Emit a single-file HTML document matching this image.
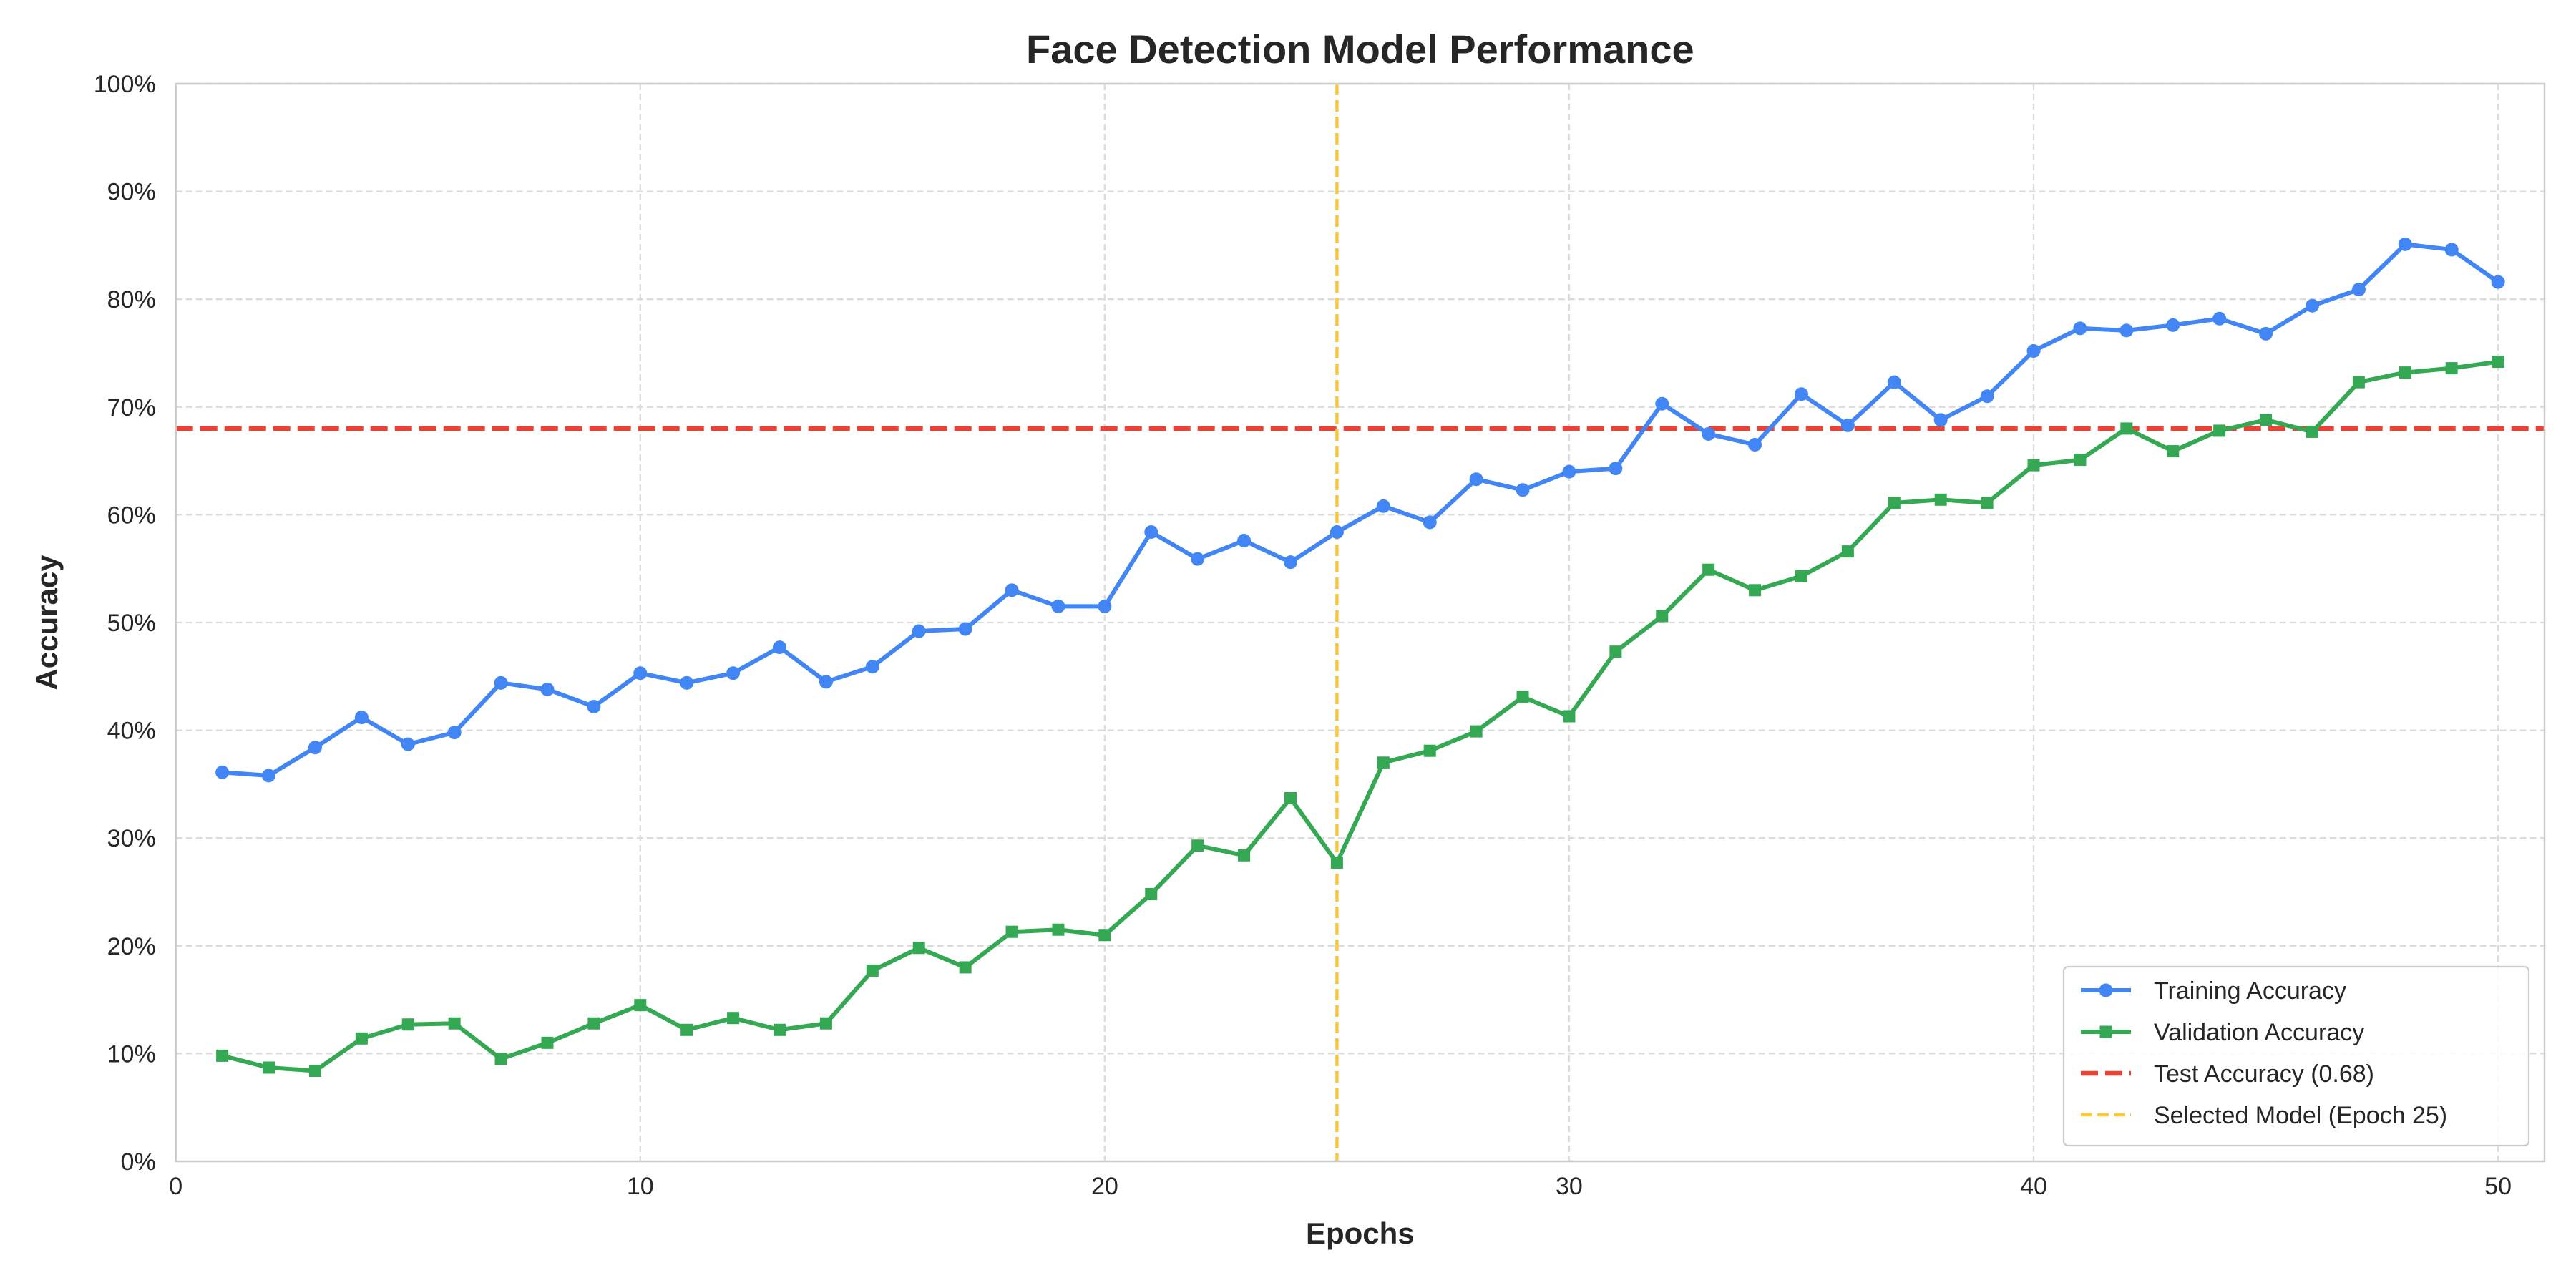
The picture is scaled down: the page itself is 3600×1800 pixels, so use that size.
<!DOCTYPE html>
<html><head><meta charset="utf-8"><style>
html,body{margin:0;padding:0;background:#fff}
svg{display:block;font-family:"Liberation Sans",Arial,sans-serif}
</style></head><body>
<svg id="chart" width="3600" height="1800" viewBox="0 0 3600 1800" xmlns="http://www.w3.org/2000/svg">
<rect width="3600" height="1800" fill="#fff"/>
<g id="grid"></g>
<g id="marks"></g>
<g id="axes"></g>
</svg>
<script>
const epochs = Array.from({length:50},(_,i)=>i+1);
const trainAcc = [36.1,35.8,38.4,41.2,38.7,39.8,44.4,43.8,42.2,45.3,44.4,45.3,47.7,44.5,45.9,49.2,49.4,53.0,51.5,51.5,58.4,55.9,57.6,55.6,58.4,60.8,59.3,63.3,62.3,64.0,64.3,70.3,67.5,66.5,71.2,68.3,72.3,68.8,71.0,75.2,77.3,77.1,77.6,78.2,76.8,79.4,80.9,85.1,84.6,81.6];
const valAcc = [9.8,8.7,8.4,11.4,12.7,12.8,9.5,11.0,12.8,14.5,12.2,13.3,12.2,12.8,17.7,19.8,18.0,21.3,21.5,21.0,24.8,29.3,28.4,33.7,27.7,37.0,38.1,39.9,43.1,41.3,47.3,50.6,54.9,53.0,54.3,56.6,61.1,61.4,61.1,64.6,65.1,68.0,65.9,67.8,68.8,67.7,72.3,73.2,73.6,74.2];
const testAcc = [68];
const selectedEpoch = [25];
const xTicks = [0,10,20,30,40,50];
const yTicks = [0,10,20,30,40,50,60,70,80,90,100];

const L=245.7,R=3556,T=117,B=1623,XMAX=51;
const X=v=>L+(R-L)*v/XMAX;
const Y=v=>B-(B-T)*v/100;
const NS='http://www.w3.org/2000/svg';
function mk(tag,attrs,parent,text){const e=document.createElementNS(NS,tag);for(const k in attrs)e.setAttribute(k,attrs[k]);if(text!==undefined)e.textContent=text;parent.appendChild(e);return e;}
const grid=document.getElementById('grid'),marks=document.getElementById('marks'),axes=document.getElementById('axes');

xTicks.forEach(t=>{
  const g=mk('line',{x1:X(t),x2:X(t),y1:T,y2:B,stroke:'#dcdcdc','stroke-width':2.3,'stroke-dasharray':'9,5'},grid);
  
  
  const lb=mk('text',{x:X(t),y:B+46,'text-anchor':'middle','font-size':34,fill:'#262626'},axes,String(t));
  
  
});
yTicks.forEach(t=>{
  const g=mk('line',{x1:L,x2:R,y1:Y(t),y2:Y(t),stroke:'#dcdcdc','stroke-width':2.3,'stroke-dasharray':'9,5'},grid);
  
  
  const lb=mk('text',{x:L-28,y:Y(t)+12,'text-anchor':'end','font-size':34,fill:'#262626'},axes,t+'%');
  
  
});
const frame=mk('rect',{x:L,y:T,width:R-L,height:B-T,fill:'none',stroke:'#cccccc','stroke-width':2.5},axes);



const tl=mk('line',{x1:L,x2:R,y1:Y(testAcc[0]),y2:Y(testAcc[0]),stroke:'#ea4335','stroke-width':6.5,'stroke-dasharray':'24,10'},marks);


const sl=mk('line',{x1:X(selectedEpoch[0]),x2:X(selectedEpoch[0]),y1:T,y2:B,stroke:'#fbc93d','stroke-width':4.5,'stroke-dasharray':'16,7'},marks);



function series(vals,color,name,square){
  const p=mk('polyline',{points:vals.map((v,i)=>X(epochs[i])+','+Y(v)).join(' '),fill:'none',stroke:color,'stroke-width':6,'stroke-linejoin':'round'},marks);
  
  
  vals.forEach((v,i)=>{
    let m;
    if(square) m=mk('rect',{x:X(epochs[i])-8.5,y:Y(v)-8.5,width:17,height:17,fill:color},marks);
    else m=mk('circle',{cx:X(epochs[i]),cy:Y(v),r:9.5,fill:color},marks);
    
    
  });
}
series(trainAcc,'#4285f4','training-accuracy',false);
series(valAcc,'#34a853','validation-accuracy',true);

const title=mk('text',{x:(L+R)/2,y:88,'text-anchor':'middle','font-size':56,'font-weight':'bold',fill:'#262626'},axes,'Face Detection Model Performance');


const xl=mk('text',{x:(L+R)/2,y:1738,'text-anchor':'middle','font-size':42,'font-weight':'bold',fill:'#262626'},axes,'Epochs');


const yl=mk('text',{x:80,y:(T+B)/2,'text-anchor':'middle','font-size':42,'font-weight':'bold',fill:'#262626',transform:'rotate(-90 80 '+(T+B)/2+')'},axes,'Accuracy');



const lg=mk('g',{},axes);


mk('rect',{x:2884,y:1351,width:650,height:250,rx:6,fill:'#fff','fill-opacity':0.85,stroke:'#cccccc','stroke-width':2.3},lg);
const items=[['Training Accuracy','#4285f4','c'],['Validation Accuracy','#34a853','s'],['Test Accuracy (0.68)','#ea4335','d'],['Selected Model (Epoch 25)','#fbc93d','y']];
items.forEach((it,i)=>{
  const y=1384+i*58;
  const e=mk('g',{},lg);
  
  
  if(it[2]==='c'||it[2]==='s'){
    mk('line',{x1:2908,x2:2978,y1:y,y2:y,stroke:it[1],'stroke-width':6},e);
    if(it[2]==='c') mk('circle',{cx:2943,cy:y,r:9.5,fill:it[1]},e);
    else mk('rect',{x:2934.5,y:y-8.5,width:17,height:17,fill:it[1]},e);
  } else if(it[2]==='d'){
    mk('line',{x1:2908,x2:2978,y1:y,y2:y,stroke:it[1],'stroke-width':6.5,'stroke-dasharray':'24,10'},e);
  } else {
    mk('line',{x1:2908,x2:2978,y1:y,y2:y,stroke:it[1],'stroke-width':4.5,'stroke-dasharray':'16,7'},e);
  }
  mk('text',{x:3010,y:y+12,'font-size':34,fill:'#262626'},e,it[0]);
});
</script>
</body></html>
